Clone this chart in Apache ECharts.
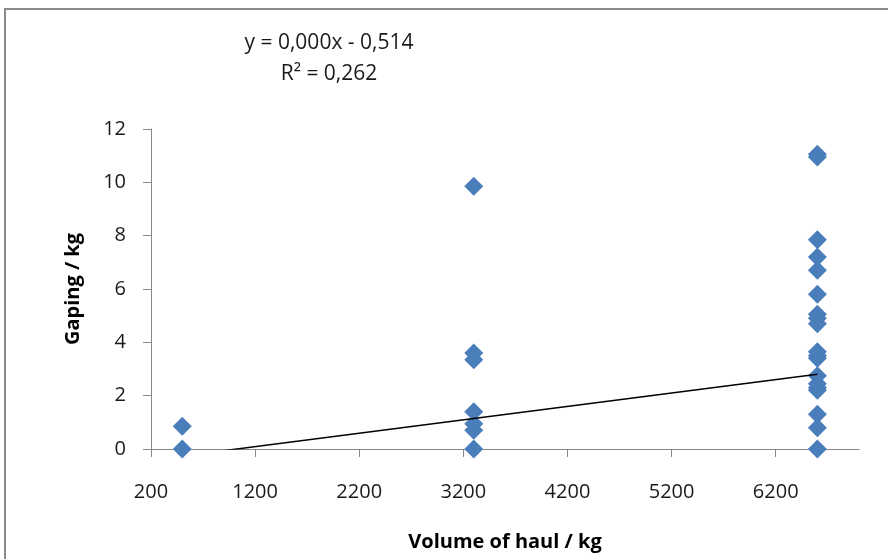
<!DOCTYPE html>
<html>
<head>
<meta charset="utf-8">
<script src="https://cdn.jsdelivr.net/npm/echarts@6/dist/echarts.min.js"></script>
<style>
html,body{margin:0;padding:0;background:#fff;}
#chart{width:888px;height:559px;}
</style>
</head>
<body>
<div id="chart"></div>
<script>
// ---- data ----
const haulVolumes = [500, 3300, 6600];
const gapingAt500 = [0.85, 0];
const gapingAt3300 = [9.85, 3.6, 3.35, 1.4, 0.95, 0.7, 0];
const gapingAt6600 = [11.05, 10.95, 7.85, 7.2, 6.7, 5.8, 5.05, 4.9, 4.7, 3.65, 3.5, 3.4, 2.75, 2.45, 2.3, 2.2, 1.3, 0.8, 0];
const xTickValues = [200, 1200, 2200, 3200, 4200, 5200, 6200];
const yTickValues = [0, 2, 4, 6, 8, 10, 12];
const trendSlope = 0.000502;
const trendIntercept = -0.514;
const trendEquation = 'y = 0,000x - 0,514';
const trendR2 = 'R² = 0,262';
const xAxisTitle = 'Volume of haul / kg';
const yAxisTitle = 'Gaping / kg';

// ---- build points ----
const groups = [gapingAt500, gapingAt3300, gapingAt6600];
const points = [];
groups.forEach((g, i) => g.forEach(v => points.push([haulVolumes[i], v])));
const xFirst = haulVolumes[0], xLast = haulVolumes[haulVolumes.length - 1];
const trendData = [[xFirst, trendSlope * xFirst + trendIntercept], [xLast, trendSlope * xLast + trendIntercept]];

const FONT = 'Open Sans';
const chart = echarts.init(document.getElementById('chart'), null, {renderer: 'canvas'});
chart.setOption({
  backgroundColor: '#ffffff',
  animation: false,
  textStyle: {fontFamily: FONT},
  grid: {left: 151, right: 29, top: 129, bottom: 110, containLabel: false},
  xAxis: {
    type: 'value', min: 200, max: 7000,
    name: xAxisTitle, nameLocation: 'middle', nameGap: 83,
    nameTextStyle: {fontFamily: FONT, fontWeight: 'bold', fontSize: 20, color: '#000'},
    axisLine: {show: true, lineStyle: {color: '#888888', width: 1}},
    axisTick: {show: true, length: 8, inside: false, customValues: xTickValues, lineStyle: {color: '#888888'}},
    axisLabel: {customValues: xTickValues, margin: 33, fontSize: 20, color: '#1a1a1a', fontFamily: FONT,
      formatter: v => String(v)},
    splitLine: {show: false}
  },
  yAxis: {
    type: 'value', min: 0, max: 12, interval: 2,
    name: yAxisTitle, nameLocation: 'middle', nameGap: 68, nameRotate: 90,
    nameTextStyle: {fontFamily: FONT, fontWeight: 'bold', fontSize: 20, color: '#000'},
    axisLine: {show: true, lineStyle: {color: '#888888', width: 1}},
    axisTick: {show: true, length: 8, inside: false, lineStyle: {color: '#888888'}},
    axisLabel: {customValues: yTickValues, margin: 25, fontSize: 20, color: '#1a1a1a', fontFamily: FONT,
      formatter: v => String(v)},
    splitLine: {show: false}
  },
  series: [
    {
      type: 'line', name: 'trend', data: trendData, symbol: 'none', clip: true,
      lineStyle: {color: '#000000', width: 1.5}, z: 3, silent: true
    },
    {
      type: 'scatter', name: 'gaping', data: points, symbol: 'diamond', symbolSize: 19,
      itemStyle: {color: '#4A7EBB', opacity: 1}, z: 2
    }
  ],
  graphic: [
    {type: 'rect', shape: {x: 5, y: 9, width: 1000, height: 1000}, style: {fill: 'none', stroke: '#8a8a8a', lineWidth: 2}, silent: true},
    {type: 'text', x: 329, y: 43, style: {text: trendEquation, font: '21px "Open Sans"', fill: '#1a1a1a', textAlign: 'center', textVerticalAlign: 'middle'}},
    {type: 'text', x: 329, y: 74, style: {text: trendR2, font: '21px "Open Sans"', fill: '#1a1a1a', textAlign: 'center', textVerticalAlign: 'middle'}}
  ]
});
</script>
</body>
</html>
